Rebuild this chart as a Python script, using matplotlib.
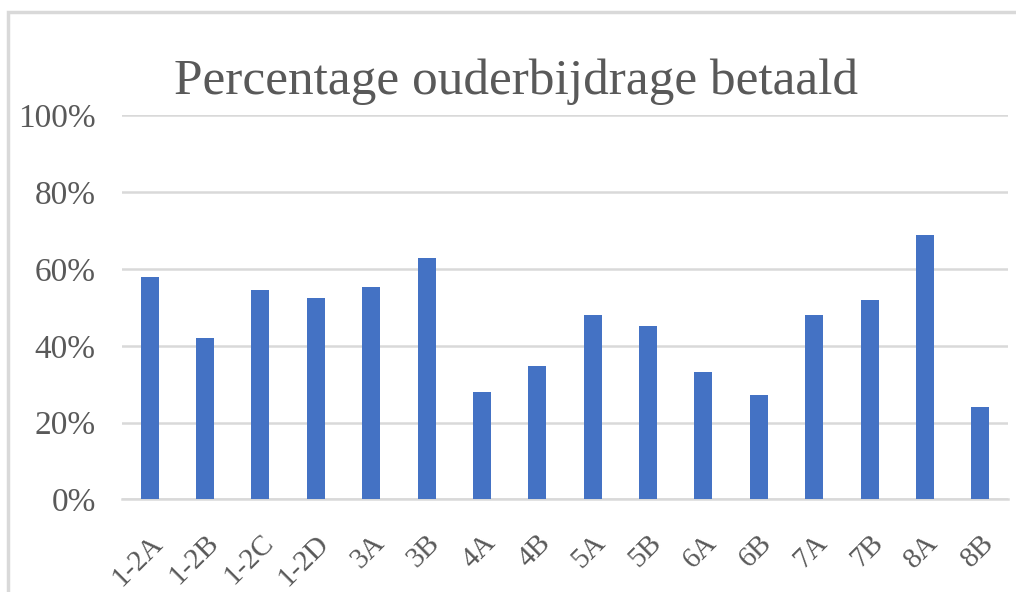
import matplotlib
matplotlib.use("Agg")
import matplotlib.pyplot as plt
from matplotlib.patches import Rectangle
from matplotlib.transforms import ScaledTranslation

categories = ["1-2A", "1-2B", "1-2C", "1-2D", "3A", "3B", "4A", "4B",
              "5A", "5B", "6A", "6B", "7A", "7B", "8A", "8B"]
values = [0.58, 0.42, 0.545, 0.525, 0.553, 0.63, 0.28, 0.348,
          0.48, 0.452, 0.331, 0.271, 0.48, 0.519, 0.69, 0.241]
yticks = [0, 0.2, 0.4, 0.6, 0.8, 1.0]
ytick_labels = ["0%", "20%", "40%", "60%", "80%", "100%"]
title = "Percentage ouderbijdrage betaald"

FONT = "Liberation Serif"
TXT = "#595959"
GRID = "#D9D9D9"
BAR = "#4472C4"

fig = plt.figure(figsize=(10.16, 5.92), dpi=100)
ax = fig.add_axes([0.1201, 0.1563, 0.872, 0.6486])

x = range(len(categories))
ax.bar(x, values, width=0.325, color=BAR, zorder=3)
ax.set_xlim(-0.5, len(categories) - 0.5)
ax.set_ylim(0, 1.0)
ax.set_yticks(yticks)
ax.set_yticklabels(ytick_labels, fontfamily=FONT, fontsize=24, color=TXT)
ax.set_xticks(list(x))
ax.set_xticklabels(categories, fontfamily=FONT, fontsize=21, color=TXT,
                   rotation=45, ha="right", rotation_mode="anchor")
offset = ScaledTranslation(-7 / 100, -2 / 100, fig.dpi_scale_trans)
for lbl in ax.get_xticklabels():
    lbl.set_transform(lbl.get_transform() + offset)
ax.tick_params(axis="both", length=0)
ax.tick_params(axis="y", pad=19)
ax.tick_params(axis="x", pad=22)
ax.grid(axis="y", color=GRID, linewidth=1.8, zorder=0)
for s in ["top", "right", "left"]:
    ax.spines[s].set_visible(False)
ax.spines["bottom"].set_color(GRID)
ax.spines["bottom"].set_linewidth(1.8)

fig.text(516 / 1016, 1 - 94 / 592, title, fontfamily=FONT, fontsize=37,
         color=TXT, ha="center", va="baseline")

# outer chart border (left and top visible)
fig.add_artist(Rectangle((8 / 1016, -0.1), 1.2, 1 - 12 / 592 + 0.1,
                         transform=fig.transFigure, fill=False,
                         edgecolor="#D9D9D9", linewidth=2.5))

fig.savefig("out.png", dpi=100)
